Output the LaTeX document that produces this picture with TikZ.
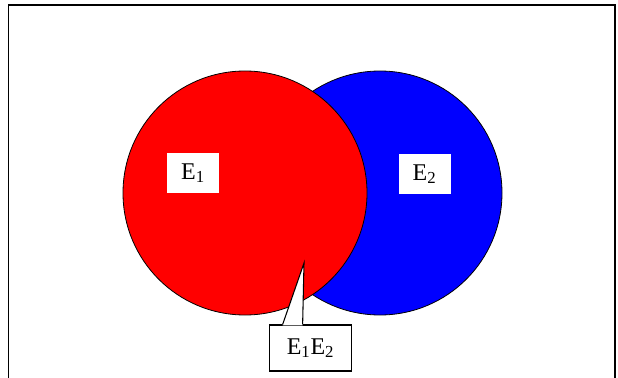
\documentclass[tikz,border=0pt]{standalone}
\usepackage{fontspec}
\setmainfont{Liberation Serif}
\usetikzlibrary{calc}
\definecolor{vnRed}{RGB}{255,0,0}
\definecolor{vnBlue}{RGB}{0,0,255}

\begin{document}
\begin{tikzpicture}[x=0.75pt, y=-0.75pt,
  setlabel/.style={fill=white, inner sep=0pt, minimum width=39pt, minimum height=30pt, font=\fontsize{18}{20}\selectfont},
  callbox/.style={setlabel, draw=black, line width=0.8pt, minimum width=62pt, minimum height=34.5pt}]
\useasboundingbox (0,0) rectangle (618,378);
% frame, open at the bottom
\draw[line width=1pt] (8.5,378) -- (8.5,5) -- (615,5) -- (615,378);
% the two events (E1 lies on top of E2)
\draw[fill=vnBlue, line width=0.6pt] (380,193) circle[radius=122];
\draw[fill=vnRed, line width=0.6pt] (245,193) circle[radius=122];
\node[setlabel] (e1) at (193,173) {E\textsubscript{1}};
\node[setlabel] (e2) at (424.5,174) {E\textsubscript{2}};
% callout for the intersection
\node[callbox] (e12) at (310.5,348) {E\textsubscript{1}E\textsubscript{2}};
\coordinate (tip) at (304,263);
\coordinate (b1) at ($(e12.north west)+(14,0)$);
\coordinate (b2) at ($(e12.north west)+(34,0)$);
\fill[white] ($(b1)+(0,1)$) -- (b1) -- (tip) -- (b2) -- ($(b2)+(0,1)$) -- cycle;
\draw[line width=0.8pt] (b1) -- (tip) -- (b2);
\end{tikzpicture}
\end{document}
